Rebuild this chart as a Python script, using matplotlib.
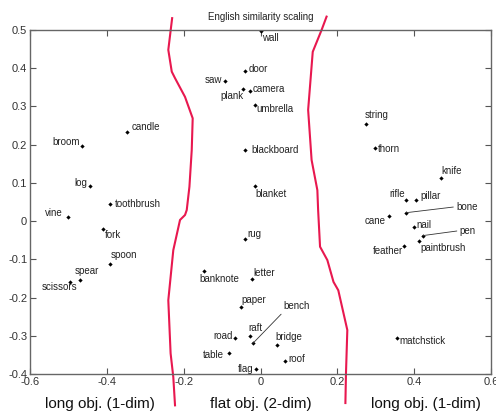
import matplotlib.pyplot as plt

plt.rcParams['font.family'] = ['Liberation Sans Narrow', 'Liberation Sans', 'DejaVu Sans']
plt.rcParams['axes.unicode_minus'] = False

words = ['wall', 'saw', 'door', 'plank', 'camera', 'umbrella', 'candle', 'broom',
         'blackboard', 'string', 'thorn', 'knife', 'log', 'blanket', 'toothbrush',
         'rifle', 'pillar', 'vine', 'fork', 'spoon', 'spear', 'scissors', 'banknote',
         'paper', 'road', 'table', 'rug', 'letter', 'raft', 'bench', 'bridge', 'roof',
         'flag', 'cane', 'bone', 'nail', 'pen', 'paintbrush', 'feather', 'matchstick']
xs = [0.000, -0.092, -0.040, -0.046, -0.027, -0.014, -0.347, -0.465,
      -0.040, 0.275, 0.297, 0.469, -0.444, -0.015, -0.393,
      0.380, 0.405, -0.502, -0.411, -0.391, -0.470, -0.495, -0.146,
      -0.052, -0.066, -0.083, -0.040, -0.021, -0.027, -0.020, 0.042, 0.063,
      -0.011, 0.334, 0.379, 0.400, 0.422, 0.413, 0.373, 0.355]
ys = [0.497, 0.367, 0.393, 0.345, 0.341, 0.305, 0.234, 0.196,
      0.185, 0.253, 0.192, 0.112, 0.092, 0.092, 0.046,
      0.054, 0.054, 0.010, -0.021, -0.113, -0.153, -0.160, -0.131,
      -0.224, -0.305, -0.346, -0.048, -0.152, -0.301, -0.320, -0.323, -0.367,
      -0.387, 0.014, 0.022, -0.015, -0.038, -0.053, -0.064, -0.305]

# hand-drawn boundaries between groups
left_x = [-0.230, -0.240, -0.231, -0.2225, -0.1965, -0.1765, -0.179, -0.185,
          -0.192, -0.1965, -0.2095, -0.227, -0.240, -0.234, -0.227, -0.2225]
left_y = [0.531, 0.448, 0.391, 0.374, 0.325, 0.269, 0.186, 0.090,
          0.029, 0.016, 0.003, -0.076, -0.207, -0.346, -0.408, -0.482]
right_x = [0.172, 0.159, 0.136, 0.124, 0.133, 0.148, 0.150, 0.155,
           0.174, 0.190, 0.2025, 0.226, 0.2225, 0.221]
right_y = [0.535, 0.500, 0.443, 0.291, 0.160, 0.081, 0.029, -0.067,
           -0.102, -0.159, -0.181, -0.285, -0.398, -0.476]

group_names = ['long obj. (1-dim)', 'flat obj. (2-dim)', 'long obj. (1-dim)']

# label offsets in pixels (dx, dy, ha)
offs = {
    'wall': (2, -7, 'left'), 'saw': (-3, 1, 'right'), 'door': (3, 2, 'left'),
    'plank': (1, -7, 'right'), 'camera': (2, 2, 'left'), 'umbrella': (1, -4, 'left'),
    'candle': (4, 5, 'left'), 'broom': (-2, 4, 'right'), 'blackboard': (6, 0, 'left'),
    'string': (-1, 9, 'left'), 'thorn': (3, -1, 'left'), 'knife': (1, 7, 'left'),
    'log': (-3, 3, 'right'), 'blanket': (1, -8, 'left'), 'toothbrush': (5, 0, 'left'),
    'rifle': (-1, 6, 'right'), 'pillar': (4, 4, 'left'), 'vine': (-5, 4, 'right'),
    'fork': (2, -6, 'left'), 'spoon': (0, 9, 'left'), 'spear': (-5, 9, 'left'),
    'scissors': (7, -5, 'right'), 'banknote': (-5, -8, 'left'), 'paper': (1, 7, 'left'),
    'road': (-2, 2, 'right'), 'table': (-5, -2, 'right'), 'rug': (2, 5, 'left'),
    'letter': (1, 6, 'left'), 'raft': (-2, 8, 'left'), 'bridge': (-1, 8, 'left'),
    'roof': (4, 2, 'left'), 'flag': (-3, 0, 'right'), 'cane': (-3, -5, 'right'),
    'nail': (2, 2, 'left'), 'paintbrush': (1, -7, 'left'), 'feather': (-1, -5, 'right'),
    'matchstick': (3, -3, 'left'),
}
# labels joined to their point by a line
leader = {'bench': (31, 37, (0, 0)), 'bone': (50, 6, (0, 0.5)), 'pen': (37, 5, (0, 0.5))}

fig = plt.figure(figsize=(4.96, 4.12), dpi=100)
ax = fig.add_axes([30 / 496, 1 - 374 / 412, 461 / 496, 344 / 412])

ax.plot(xs, ys, 'D', color='black', ms=2.2, mew=0)

for w, x, y in zip(words, xs, ys):
    if w in leader:
        dx, dy, rp = leader[w]
        ax.annotate(w, (x, y), xytext=(dx, dy), textcoords='offset pixels',
                    ha='left', va='center', fontsize=7, color='#222222',
                    arrowprops=dict(arrowstyle='-', lw=0.6, color='#333333',
                                    shrinkA=0, shrinkB=0, relpos=rp))
    else:
        dx, dy, ha = offs[w]
        ax.annotate(w, (x, y), xytext=(dx, dy), textcoords='offset pixels',
                    ha=ha, va='center', fontsize=7, color='#222222')

ax.plot(left_x, left_y, color='#e8184f', lw=1.5, clip_on=False)
ax.plot(right_x, right_y, color='#e8184f', lw=1.5, clip_on=False)

ax.set_xlim(-0.6, 0.6)
ax.set_ylim(-0.4, 0.5)
xt = [-0.6, -0.4, -0.2, 0, 0.2, 0.4, 0.6]
yt = [-0.4, -0.3, -0.2, -0.1, 0, 0.1, 0.2, 0.3, 0.4, 0.5]
ax.set_xticks(xt)
ax.set_xticklabels(['%g' % v for v in xt])
ax.set_yticks(yt)
ax.set_yticklabels(['%g' % v for v in yt])
ax.tick_params(direction='in', top=True, right=True, length=4, width=0.8,
               color='#555555', labelsize=8, labelcolor='#333333', pad=2)
for s in ax.spines.values():
    s.set_color('#666666')
    s.set_linewidth(1.0)

ax.set_title('English similarity scaling', fontsize=7, pad=7, color='#222222')

for name, cx in zip(group_names, [100, 261, 426]):
    fig.text(cx / 496, 1 - 404 / 412, name, ha='center', va='center',
             fontsize=11, family=['Liberation Sans', 'DejaVu Sans'], color='#111111')

fig.savefig('out.png', dpi=100)
